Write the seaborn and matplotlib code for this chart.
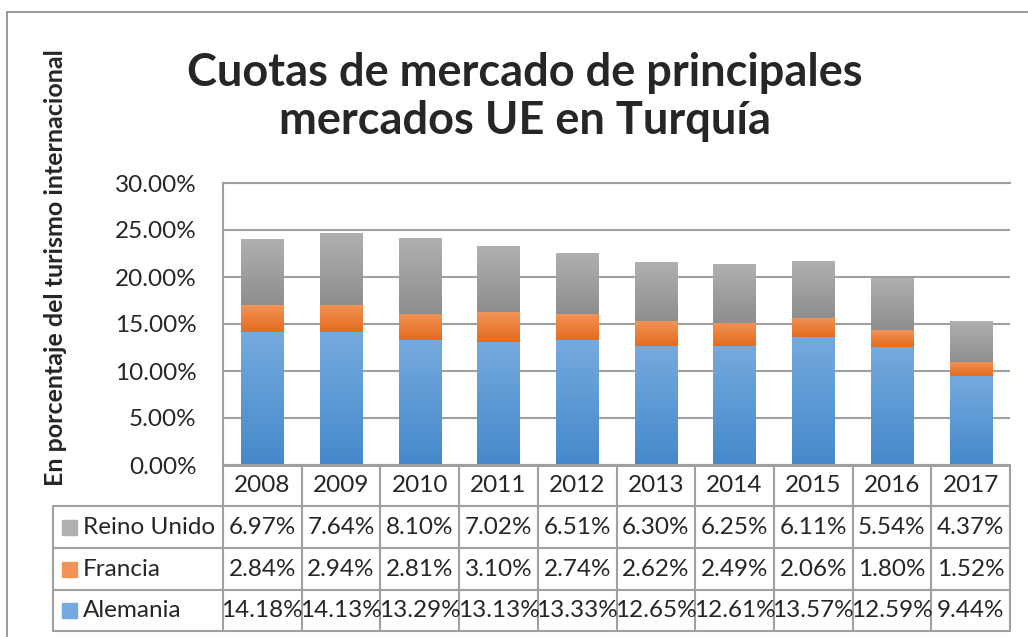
import numpy as np
import pandas as pd
import matplotlib
matplotlib.use("Agg")
import matplotlib.pyplot as plt
import matplotlib.transforms as mtransforms
from matplotlib.lines import Line2D
from matplotlib.patches import Rectangle
from matplotlib.colors import LinearSegmentedColormap
import seaborn as sns

# ---- datos ----
anios = ['2008', '2009', '2010', '2011', '2012', '2013', '2014', '2015', '2016', '2017']
alemania = [14.18, 14.13, 13.29, 13.13, 13.33, 12.65, 12.61, 13.57, 12.59, 9.44]
francia = [2.84, 2.94, 2.81, 3.10, 2.74, 2.62, 2.49, 2.06, 1.80, 1.52]
reino_unido = [6.97, 7.64, 8.10, 7.02, 6.51, 6.30, 6.25, 6.11, 5.54, 4.37]
series = ['Reino Unido', 'Francia', 'Alemania']  # orden de la tabla
titulo = 'Cuotas de mercado de principales\nmercados UE en Turquía'
etiqueta_y = 'En porcentaje del turismo internacional'

# colores (arriba claro, abajo oscuro)
grad = {
    'Alemania': ('#75aade', '#4589cb'),
    'Francia': ('#f29358', '#e46c1e'),
    'Reino Unido': ('#b0b0b0', '#8e8e8e'),
}
gris = '#a0a0a0'
fs = 17.5

sns.set_style('white')
plt.rcParams['font.family'] = ['Lato', 'DejaVu Sans']

W, H = 1028, 637
fig = plt.figure(figsize=(W / 100, H / 100), dpi=100)
fx = lambda px: px / W
fy = lambda py: 1 - py / H

x0, x1, ytop, ybot = 223, 1010, 183, 465
ax = fig.add_axes([fx(x0), fy(ybot), fx(x1 - x0), (ybot - ytop) / H])

df = pd.DataFrame({'anio': anios,
                   'Alemania': np.array(alemania) / 100,
                   'Francia': np.array(francia) / 100,
                   'Reino Unido': np.array(reino_unido) / 100})

base = np.zeros(len(anios))
for s in ['Alemania', 'Francia', 'Reino Unido']:
    n0 = len(ax.patches)
    sns.barplot(data=df, x='anio', y=s, order=anios, color=grad[s][1],
                width=0.535, bottom=base.copy(), ax=ax, linewidth=0)
    for p in ax.patches[n0:]:
        cmap = LinearSegmentedColormap.from_list(s, [grad[s][1], grad[s][0]])
        px, py, pw, ph = p.get_x(), p.get_y(), p.get_width(), p.get_height()
        img = ax.imshow(np.linspace(0, 1, 100).reshape(-1, 1), cmap=cmap,
                        origin='lower', aspect='auto', extent=(px, px + pw, py, py + ph),
                        zorder=2, interpolation='bilinear')
        img.set_clip_path(p)
        p.set_facecolor('none')
    base = base + df[s].values

ax.set_xlim(-0.5, len(anios) - 0.5)
ax.set_ylim(0, 0.30)
ax.set_yticks(np.arange(0, 0.301, 0.05))
ax.set_yticklabels([f'{v * 100:.2f}%' for v in np.arange(0, 0.301, 0.05)], fontsize=fs)
ax.tick_params(axis='y', length=0, pad=19)
ax.set_xticks([])
ax.set_xlabel('')
ax.set_ylabel('')
ax.grid(axis='y', color=gris, linewidth=1.5)
ax.set_axisbelow(True)
for sp in ['left', 'top', 'bottom']:
    ax.spines[sp].set_color(gris)
    ax.spines[sp].set_linewidth(1.5)
ax.spines['right'].set_visible(False)

# ---- tabla de datos ----
tr = mtransforms.blended_transform_factory(ax.transData, fig.transFigure)
filas = [466, 506, 548, 590, 631]
xs_lim = np.arange(-0.5, len(anios) + 0.5)
lw = 1.5
fig.add_artist(Line2D([fx(x0), fx(x1)], [fy(filas[0])] * 2, color=gris, lw=lw))
for yy in filas[1:]:
    fig.add_artist(Line2D([fx(53), fx(x1)], [fy(yy)] * 2, color=gris, lw=lw))
for xv in xs_lim:
    fig.add_artist(Line2D([xv, xv], [fy(filas[0]), fy(filas[-1])], color=gris, lw=lw, transform=tr))
fig.add_artist(Line2D([fx(53), fx(53)], [fy(filas[1]), fy(filas[-1])], color=gris, lw=lw))

for i, a in enumerate(anios):
    fig.text(i, fy((filas[0] + filas[1]) / 2), a, transform=tr, ha='center', va='center', fontsize=fs)
for r, s in enumerate(series):
    yc = fy((filas[r + 1] + filas[r + 2]) / 2)
    for i in range(len(anios)):
        fig.text(i, yc, f'{df[s].values[i] * 100:.2f}%', transform=tr,
                 ha='center', va='center', fontsize=fs)
    fig.add_artist(Rectangle((fx(62), yc - 7.5 / H), 15 / W, 15 / H, color=grad[s][0]))
    fig.text(fx(83), yc, s, ha='left', va='center', fontsize=fs)

# ---- título y eje ----
fig.text(fx(525), fy(97), titulo, ha='center', va='center', fontsize=32.5,
         fontweight='bold', linespacing=1.2)
fig.text(fx(56), fy(268), etiqueta_y, rotation=90, ha='center', va='center',
         fontsize=18, fontweight='bold')

# borde exterior
fig.add_artist(Line2D([fx(7), fx(7)], [fy(12), 0], color='#8a8a8a', lw=1.2))
fig.add_artist(Line2D([fx(7), 1], [fy(12), fy(12)], color='#8a8a8a', lw=1.2))

fig.savefig('out.png', dpi=100)
